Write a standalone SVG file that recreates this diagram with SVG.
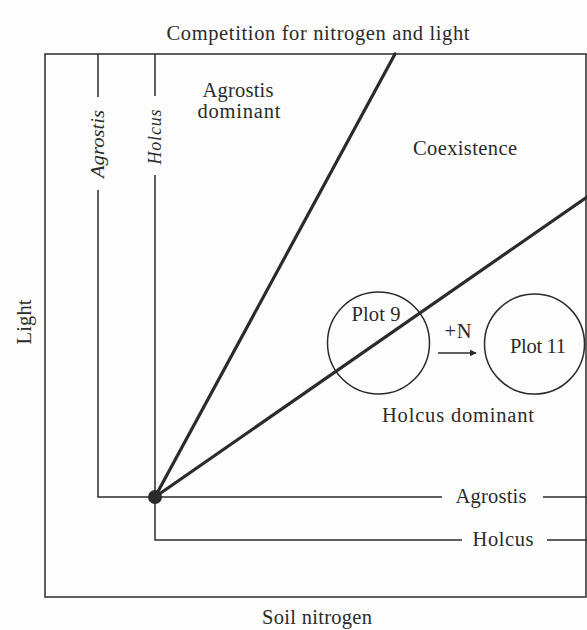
<svg xmlns="http://www.w3.org/2000/svg" width="587" height="630" viewBox="0 0 587 630">
  <style>
    text { font-family: "Liberation Serif", "Times New Roman", serif; fill: #2b2b2b; font-size: 20.5px; }
    .it { font-style: italic; font-size: 18px; }
    .thin { stroke: #2b2b2b; stroke-width: 1.5; fill: none; }
    .thick { stroke: #2b2b2b; stroke-width: 3.2; fill: none; stroke-linecap: round; }
    .circ { stroke: #2b2b2b; stroke-width: 1.5; fill: none; }
  </style>
  <defs>
    <marker id="ah" viewBox="0 0 10 10" refX="9" refY="5" markerWidth="7" markerHeight="7" markerUnits="userSpaceOnUse" orient="auto">
      <path d="M0,0 L10,5 L0,10 z" fill="#2b2b2b"/>
    </marker>
  </defs>
  <rect x="0" y="0" width="587" height="630" fill="#fdfdfd"/>

  <g id="title">
    <text x="318" y="40" text-anchor="middle" textLength="303" lengthAdjust="spacing">Competition for nitrogen and light</text>
  </g>

  <g id="frame">
    <path class="thin" d="M45,54 L586,54 L586,597 L45,597 Z"/>
    <text x="317" y="624" text-anchor="middle" textLength="110" lengthAdjust="spacing">Soil nitrogen</text>
    <text transform="translate(31,322) rotate(-90)" text-anchor="middle" textLength="45" lengthAdjust="spacing">Light</text>
  </g>

  <g id="connectors">
    <!-- Agrostis isoclines -->
    <path class="thin" d="M98,54 L98,97"/>
    <path class="thin" d="M98,190 L98,497 L442,497"/>
    <path class="thin" d="M543,497 L587,497"/>
    <!-- Holcus isoclines -->
    <path class="thin" d="M155,54 L155,96"/>
    <path class="thin" d="M155,175 L155,540 L462,540"/>
    <path class="thin" d="M547,540 L587,540"/>
    <!-- boundaries -->
    <path class="thick" d="M155,497 L395,54"/>
    <path class="thick" d="M155,497 L587,197"/>
    <!-- +N arrow -->
    <path class="thin" d="M438,353 L476,353" marker-end="url(#ah)"/>
  </g>

  <g id="agrostis-isocline-labels">
    <text class="it" transform="translate(104,144) rotate(-90)" text-anchor="middle" textLength="68" lengthAdjust="spacingAndGlyphs">Agrostis</text>
    <text x="491" y="503" text-anchor="middle" textLength="71" lengthAdjust="spacing">Agrostis</text>
  </g>

  <g id="holcus-isocline-labels">
    <text class="it" transform="translate(161,137) rotate(-90)" text-anchor="middle" textLength="55" lengthAdjust="spacing">Holcus</text>
    <text x="503" y="546" text-anchor="middle" textLength="61" lengthAdjust="spacing">Holcus</text>
  </g>

  <g id="equilibrium-point">
    <circle cx="155" cy="497" r="7" fill="#2b2b2b"/>
  </g>

  <g id="region-agrostis-dominant">
    <text x="238" y="97" text-anchor="middle" textLength="71" lengthAdjust="spacing">Agrostis</text>
    <text x="239" y="118" text-anchor="middle" textLength="83" lengthAdjust="spacing">dominant</text>
  </g>

  <g id="region-coexistence">
    <text x="465" y="155" text-anchor="middle" textLength="104" lengthAdjust="spacing">Coexistence</text>
  </g>

  <g id="region-holcus-dominant">
    <text x="458" y="422" text-anchor="middle" textLength="152" lengthAdjust="spacing">Holcus dominant</text>
  </g>

  <g id="plot9">
    <circle class="circ" cx="378.5" cy="343" r="51"/>
    <text x="376" y="321" text-anchor="middle" textLength="49" lengthAdjust="spacing">Plot 9</text>
  </g>

  <g id="label-plusN">
    <text x="458" y="338" text-anchor="middle" textLength="27" lengthAdjust="spacing">+N</text>
  </g>

  <g id="plot11">
    <circle class="circ" cx="534.5" cy="344" r="50"/>
    <text x="538" y="353" text-anchor="middle" textLength="56" lengthAdjust="spacing">Plot 11</text>
  </g>
</svg>
